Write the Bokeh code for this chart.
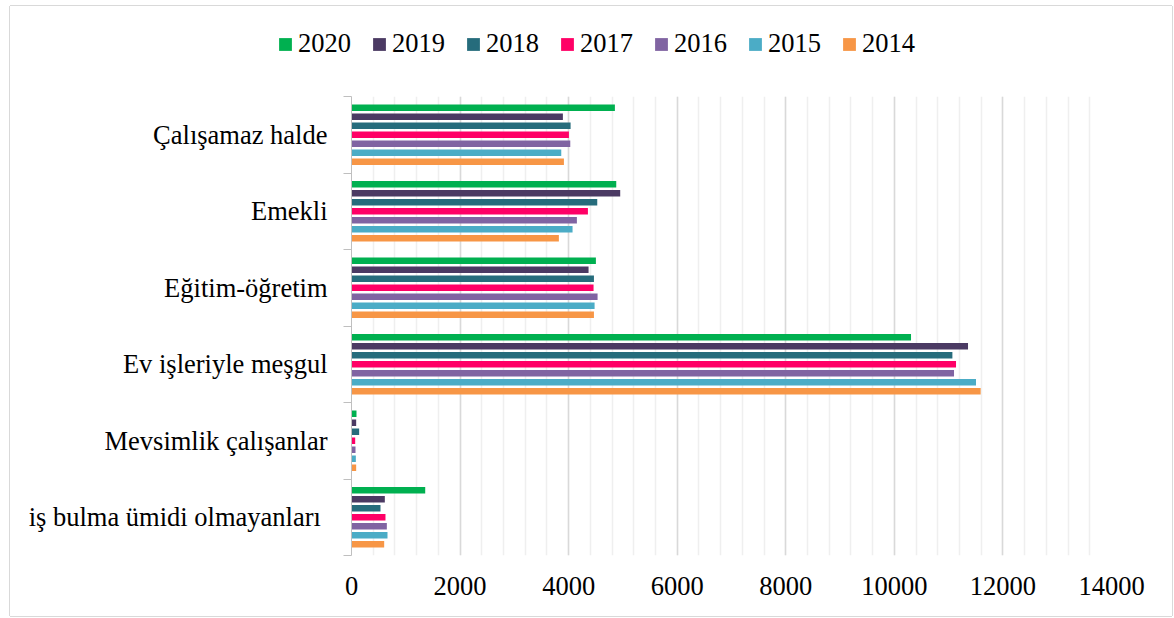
from bokeh.plotting import figure
from bokeh.models import (Range1d, FixedTicker, SingleIntervalTicker, Legend,
                          LegendItem, ColumnDataSource)
from bokeh.transform import dodge
from bokeh.embed import file_html
from bokeh.resources import INLINE

categories = ["Çalışamaz halde", "Emekli", "Eğitim-öğretim", "Ev işleriyle meşgul",
              "Mevsimlik çalışanlar", "iş bulma ümidi olmayanları\u00a0"]
years = ["2020", "2019", "2018", "2017", "2016", "2015", "2014"]
colors = ["#00B050", "#4B3A63", "#266C7C", "#FF0066", "#8064A2", "#4BACC6", "#F79646"]

v2020 = [4852, 4877, 4502, 10307, 92, 1358]
v2019 = [3894, 4950, 4367, 11357, 86, 614]
v2018 = [4036, 4527, 4466, 11069, 141, 534]
v2017 = [4005, 4355, 4459, 11136, 68, 626]
v2016 = [4030, 4152, 4533, 11099, 74, 651]
v2015 = [3864, 4072, 4478, 11504, 80, 663]
v2014 = [3913, 3820, 4466, 11590, 86, 602]
series = [v2020, v2019, v2018, v2017, v2016, v2015, v2014]

x_ticks_interval = 2000
x_max = 14000

n = len(categories)
pos = [n - i - 0.5 for i in range(n)]
data = {"pos": pos}
for y, v in zip(years, series):
    data["y" + y] = v
source = ColumnDataSource(data)

FONT = "Liberation Serif"
FS = "26.5px"
W = 1162
H_LEG = 59
H_MAIN = 551
BORDER = "#d9d9d9"

# ---- main chart ----
p = figure(width=W, height=H_MAIN, output_backend="svg", toolbar_location=None,
           x_range=Range1d(0, x_max), y_range=Range1d(0, n),
           min_border_left=341, min_border_right=61, min_border_top=31,
           min_border_bottom=61)
p.outline_line_color = None
p.background_fill_color = "white"
p.border_fill_color = "white"
p.styles = {"margin-left": "10px",
            "box-shadow": f"-1px 0 0 0 {BORDER}, 1px 0 0 0 {BORDER}, 0 1px 0 0 {BORDER}"}

pitch = 0.1176
bar_h = 0.085
for i, (y, c) in enumerate(zip(years, colors)):
    off = (3 - i) * pitch
    p.hbar(y=dodge("pos", off, range=p.y_range), left=0, right="y" + y,
           height=bar_h, fill_color=c, line_color=None, source=source)

p.xaxis.ticker = SingleIntervalTicker(interval=x_ticks_interval, num_minor_ticks=5)
p.xaxis.axis_line_color = None
p.xaxis.major_tick_line_color = None
p.xaxis.minor_tick_line_color = None
p.xaxis.major_label_standoff = 15
p.xaxis.major_label_text_font = FONT
p.xaxis.major_label_text_font_size = FS
p.xaxis.major_label_text_color = "black"

p.xgrid.grid_line_color = "#d9d9d9"
p.xgrid.grid_line_width = 1.5
p.xgrid.minor_grid_line_color = "#efefef"
p.xgrid.minor_grid_line_width = 1.5
p.ygrid.grid_line_color = None

p.yaxis.ticker = FixedTicker(ticks=pos, minor_ticks=list(range(n + 1)))
p.yaxis.major_label_overrides = {pv: c for pv, c in zip(pos, categories)}
p.yaxis.major_tick_line_color = None
p.yaxis.major_tick_out = 0
p.yaxis.major_tick_in = 0
p.yaxis.minor_tick_out = 8
p.yaxis.minor_tick_in = 0
p.yaxis.minor_tick_line_color = "#bfbfbf"
p.yaxis.axis_line_color = "#bfbfbf"
p.yaxis.major_label_standoff = 16
p.yaxis.major_label_text_font = FONT
p.yaxis.major_label_text_font_size = FS
p.yaxis.major_label_text_color = "black"

# ---- legend strip (separate root so its frame spans the full width) ----
lf = figure(width=W, height=H_LEG, output_backend="svg", toolbar_location=None,
            x_range=Range1d(0, 1), y_range=Range1d(0, 1),
            x_axis_location=None, y_axis_location=None,
            min_border=0, min_border_left=0, min_border_right=0,
            min_border_top=0, min_border_bottom=0)
lf.outline_line_color = None
lf.grid.visible = False
lf.background_fill_color = "white"
lf.border_fill_color = "white"
lf.styles = {"margin-left": "10px", "margin-top": "6px",
             "box-shadow": f"-1px 0 0 0 {BORDER}, 1px 0 0 0 {BORDER}, 0 -1px 0 0 {BORDER}"}
items = []
for y, c in zip(years, colors):
    r = lf.hbar(y="pos", right="y" + y, height=1, fill_color=c, line_color=None,
                source=source, visible=False)
    items.append(LegendItem(label=y, renderers=[r]))
legend = Legend(items=items, orientation="horizontal", location=(267, 6),
                glyph_width=16, glyph_height=16, label_standoff=5, spacing=20,
                padding=0, margin=0, border_line_color=None, background_fill_alpha=0,
                label_text_font=FONT, label_text_font_size=FS,
                label_text_color="black")
lf.add_layout(legend, "center")

open("out.html", "w").write(file_html([lf, p], INLINE))
